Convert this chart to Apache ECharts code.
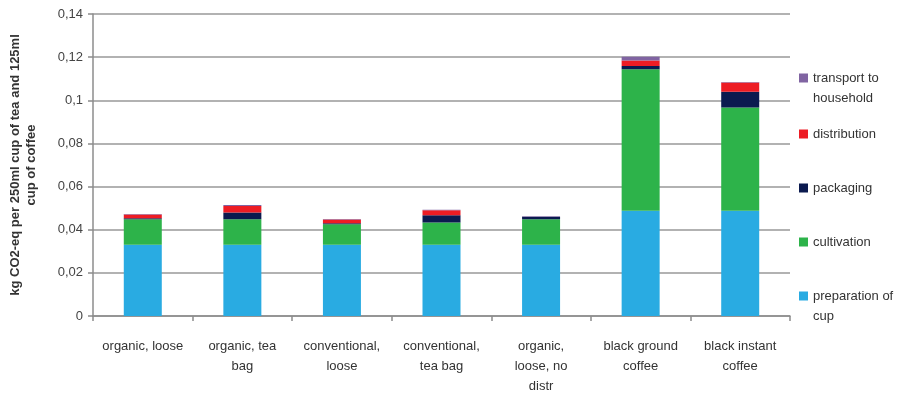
<!DOCTYPE html>
<html>
<head>
<meta charset="utf-8">
<script src="https://cdn.jsdelivr.net/npm/echarts@6/dist/echarts.min.js"></script>
<style>
  html, body { margin: 0; padding: 0; background: #fff; }
  #chart { width: 919px; height: 393px; }
</style>
</head>
<body>
<div id="chart"></div>
<script>
// categories on the x axis
var categories = [
  "organic, loose",
  "organic, tea\nbag",
  "conventional,\nloose",
  "conventional,\ntea bag",
  "organic,\nloose, no\ndistr",
  "black ground\ncoffee",
  "black instant\ncoffee"
];

// stacked values, kg CO2-eq (bottom to top)
var preparation = [0.033, 0.033, 0.033, 0.033, 0.033, 0.0488, 0.0488];
var cultivation = [0.0118, 0.0118, 0.0095, 0.0103, 0.0118, 0.0656, 0.0478];
var packaging = [0.0005, 0.0032, 0.0005, 0.0034, 0.0012, 0.0015, 0.0074];
var distribution = [0.0017, 0.003, 0.0017, 0.0023, 0, 0.0025, 0.0042];
var transport = [0.0003, 0.0005, 0.0003, 0.0003, 0.0002, 0.0018, 0.0003];

var seriesNames = ["preparation of cup", "cultivation", "packaging", "distribution", "transport to household"];
// a blank first line keeps the icon level with the first real line
var legendLabels = [" \npreparation of\ncup", "cultivation", "packaging", "distribution", " \ntransport to\nhousehold"];
var seriesData = [preparation, cultivation, packaging, distribution, transport];
var colors = ["#29abe2", "#2db34a", "#0b1a4f", "#ed1c24", "#8064a2"];

var chartDom = document.getElementById("chart");
var myChart = echarts.init(chartDom);

var series = [];
for (var i = 0; i < seriesNames.length; i++) {
  series.push({
    name: seriesNames[i],
    type: "bar",
    stack: "total",
    barWidth: 38,
    itemStyle: { color: colors[i] },
    data: seriesData[i]
  });
}

// one legend per item so each can sit at its own height (icon centres)
var iconCentres = [296, 242, 188, 134, 78];
var legends = [];
for (var j = 0; j < seriesNames.length; j++) {
  var multi = legendLabels[j].indexOf("\n") >= 0;
  legends.push({
    data: [seriesNames[j]],
    left: 794,
    top: multi ? iconCentres[j] - 35 : iconCentres[j] - 15,
    orient: "vertical",
    icon: "rect",
    itemWidth: 9,
    itemHeight: 9,
    itemGap: 4,
    selectedMode: false,
    formatter: (function (lbl) { return function () { return lbl; }; })(legendLabels[j]),
    textStyle: {
      fontFamily: "Liberation Sans",
      fontSize: 13,
      color: "#333",
      lineHeight: 20
    }
  });
}

var option = {
  animation: false,
  textStyle: { fontFamily: "Liberation Sans" },
  grid: {
    left: 93,
    right: 129,
    top: 14,
    bottom: 77,
    outerBoundsMode: "none"
  },
  legend: legends,
  xAxis: {
    type: "category",
    data: categories,
    axisLine: { lineStyle: { color: "#8c8c8c", width: 1.5 } },
    axisTick: { show: true, length: 5, lineStyle: { color: "#8c8c8c", width: 1.5 } },
    axisLabel: {
      interval: 0,
      margin: 20,
      fontSize: 13,
      lineHeight: 20,
      color: "#333",
      fontFamily: "Liberation Sans"
    }
  },
  yAxis: {
    type: "value",
    min: 0,
    max: 0.14,
    interval: 0.02,
    name: "kg CO2-eq per 250ml cup of tea and 125ml\ncup of coffee",
    nameLocation: "middle",
    nameRotate: 90,
    nameGap: 54,
    nameTextStyle: {
      fontSize: 13,
      fontWeight: "bold",
      color: "#333",
      lineHeight: 16,
      fontFamily: "Liberation Sans"
    },
    axisLine: { show: true, lineStyle: { color: "#8c8c8c", width: 1.5 } },
    axisTick: { show: true, length: 5, lineStyle: { color: "#8c8c8c", width: 1.5 } },
    splitLine: { lineStyle: { color: "#999", width: 1.5 } },
    axisLabel: {
      fontSize: 13,
      color: "#444",
      margin: 10,
      fontFamily: "Liberation Sans",
      formatter: function (v) {
        return String(+v.toFixed(2)).replace(".", ",");
      }
    }
  },
  series: series
};

option && myChart.setOption(option);
</script>
</body>
</html>
